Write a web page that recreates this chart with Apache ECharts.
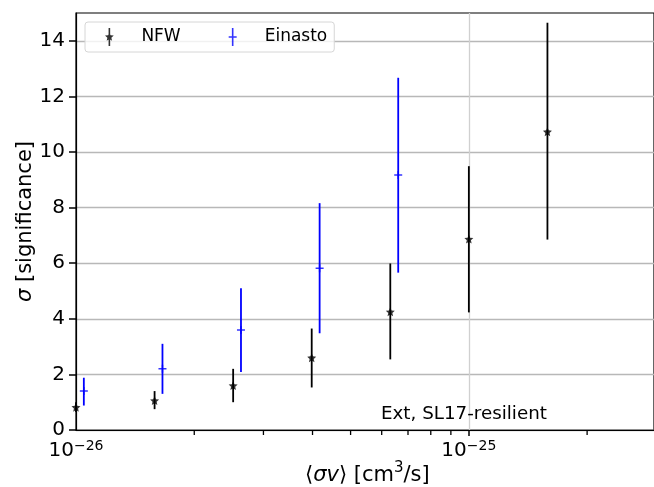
<!DOCTYPE html>
<html><head><meta charset="utf-8">
<script src="https://cdn.jsdelivr.net/npm/echarts@6/dist/echarts.min.js"></script>
<style>html,body{margin:0;padding:0;background:#fff}#c{width:654px;height:487px}</style>
</head><body><div id="c"></div>
<script>
// ---- data ----
const nfwX  = [1.0e-26, 1.585e-26, 2.512e-26, 3.981e-26, 6.31e-26, 1.0e-25, 1.585e-25];
const nfwY  = [0.82, 1.06, 1.60, 2.60, 4.25, 6.87, 10.73];
const nfwLo = [0.65, 0.75, 1.00, 1.53, 2.54, 4.23, 6.85];
const nfwHi = [1.00, 1.40, 2.20, 3.65, 5.99, 9.49, 14.65];
const einX  = [1.047e-26, 1.66e-26, 2.63e-26, 4.17e-26, 6.61e-26];
const einY  = [1.40, 2.20, 3.60, 5.82, 9.17];
const einLo = [0.88, 1.30, 2.09, 3.48, 5.66];
const einHi = [1.88, 3.10, 5.10, 8.16, 12.67];
const yTicks = [0, 2, 4, 6, 8, 10, 12, 14];
const xMajorTicks = [1e-26, 1e-25];
const xMajorLabels = ['{b|10}{s|−26}', '{b|10}{s|−25}'];
const xMinorTicks = [2e-26, 3e-26, 4e-26, 5e-26, 6e-26, 7e-26, 8e-26, 9e-26, 2e-25];
const xMin = 1e-26, xMax = 2.96e-25, yMin = 0, yMax = 15;
const seriesNames = ['NFW', 'Einasto'];
const annotation = 'Ext, SL17-resilient';
const xAxisTitle = '{n|⟨}{i|σv}{n|⟩ [cm}{sup|3}{n|/s]}';
const yAxisTitle = '{i|σ} [significance]';

// ---- style helpers ----
const FONT = 'DejaVu Sans';
function starPath(cx, cy, R, r) {
  let d = '';
  for (let i = 0; i < 10; i++) {
    const a = -Math.PI / 2 + i * Math.PI / 5;
    const rad = (i % 2 === 0) ? R : r;
    const x = (cx + rad * Math.cos(a)).toFixed(3), y = (cy + rad * Math.sin(a)).toFixed(3);
    d += (i === 0 ? 'M' : 'L') + x + ',' + y + ' ';
  }
  return d + 'Z';
}
const starSymbol = 'path://' + starPath(5, 5, 5, 2.3);
const plusSymbol = 'path://M0,3.25 L8,3.25 L8,4.75 L0,4.75 Z M3.25,0 L4.75,0 L4.75,8 L3.25,8 Z';
const nfwIcon = 'path://M3.2,0 L4.8,0 L4.8,18 L3.2,18 Z ' + starPath(4, 9, 4.6, 2.1);
const einIcon = 'path://M3.2,0 L4.8,0 L4.8,18 L3.2,18 Z M0,8.25 L8,8.25 L8,9.75 L0,9.75 Z';

function errSeries(name, xs, lo, hi, color) {
  return {
    name: name, type: 'custom', z: 2, silent: true,
    itemStyle: { color: color },
    data: xs.map((x, i) => [x, lo[i], hi[i]]),
    encode: { x: 0, y: [1, 2] },
    renderItem: function (params, api) {
      const p1 = api.coord([api.value(0), api.value(1)]);
      const p2 = api.coord([api.value(0), api.value(2)]);
      return { type: 'line', shape: { x1: p1[0], y1: p1[1], x2: p2[0], y2: p2[1] },
               style: { stroke: color, lineWidth: 1.8 } };
    }
  };
}

const chart = echarts.init(document.getElementById('c'), null, { renderer: 'canvas' });
chart.setOption({
  animation: false,
  backgroundColor: '#fff',
  textStyle: { fontFamily: FONT, color: '#000' },
  grid: { left: 76, top: 13, right: 0, bottom: 57,
          show: true, borderColor: '#000', borderWidth: 1.2, backgroundColor: 'transparent' },
  title: [
    { text: annotation, left: 381, top: 405, padding: 0,
      textStyle: { fontFamily: FONT, fontSize: 18.3, fontWeight: 'normal', color: '#000' } },
    { text: xAxisTitle, left: 305, top: 461, padding: 0,
      textStyle: { fontFamily: FONT, fontSize: 21, fontWeight: 'normal', color: '#000', lineHeight: 25,
        rich: { n: { fontFamily: FONT, fontSize: 21, lineHeight: 25, verticalAlign: 'bottom', color: '#000' },
                i: { fontFamily: FONT, fontSize: 21, lineHeight: 25, fontStyle: 'italic', verticalAlign: 'bottom', color: '#000' },
                sup: { fontFamily: FONT, fontSize: 15, lineHeight: 15, verticalAlign: 'top', color: '#000' } } } }
  ],
  legend: {
    left: 85, top: 22, orient: 'horizontal',
    padding: [6, 7, 6, 20], itemGap: 48, itemWidth: 24, itemHeight: 18,
    symbolKeepAspect: true, selectedMode: false,
    backgroundColor: 'rgba(255,255,255,0.8)', borderColor: '#d6d6d6', borderWidth: 1, borderRadius: 3,
    textStyle: { fontFamily: FONT, fontSize: 17, color: '#000', padding: [0, 0, 0, 15] },
    data: [{ name: seriesNames[0], icon: nfwIcon }, { name: seriesNames[1], icon: einIcon }]
  },
  xAxis: {
    type: 'log', logBase: 10, min: xMin, max: xMax,
    axisLine: { show: true, lineStyle: { color: '#000', width: 1.2 } },
    axisTick: { show: true, inside: false, length: 6, lineStyle: { color: '#000', width: 1.5 } },
    axisLabel: { show: false },
    splitLine: { show: true, lineStyle: { color: '#d0d0d0', width: 1.3 } },
    minorTick: { show: false }
  },
  yAxis: {
    type: 'value', min: yMin, max: yMax,
    name: yAxisTitle, nameLocation: 'middle', nameGap: 40, nameRotate: 90,
    nameMoveOverlap: false,
    nameTextStyle: { fontFamily: FONT, fontSize: 21, color: '#000',
      rich: { i: { fontFamily: FONT, fontSize: 21, fontStyle: 'italic' } } },
    axisLine: { show: true, lineStyle: { color: '#000', width: 1.2 } },
    axisTick: { show: true, inside: false, length: 7, lineStyle: { color: '#000', width: 1.5 }, customValues: yTicks },
    axisLabel: { customValues: yTicks, margin: 11, fontFamily: FONT, fontSize: 20, color: '#000' },
    splitLine: { show: true, lineStyle: { color: '#b8b8b8', width: 1.3 } }
  },
  series: [
    { name: seriesNames[0], type: 'scatter', z: 4, symbol: starSymbol, symbolSize: 9,
      itemStyle: { color: '#000' }, data: nfwX.map((x, i) => [x, nfwY[i]]) },
    { name: seriesNames[1], type: 'scatter', z: 4, symbol: plusSymbol, symbolSize: 8,
      itemStyle: { color: '#0000ff' }, data: einX.map((x, i) => [x, einY[i]]) },
    errSeries(seriesNames[0], nfwX, nfwLo, nfwHi, '#000'),
    errSeries(seriesNames[1], einX, einLo, einHi, '#0000ff'),
    { name: 'minorTicks', type: 'custom', silent: true, z: 5, clip: false,
      data: xMinorTicks.map(v => [v, yMin]),
      renderItem: function (params, api) {
        const p = api.coord([api.value(0), yMin]);
        return { type: 'line', shape: { x1: p[0], y1: p[1], x2: p[0], y2: p[1] + 5 },
                 style: { stroke: '#000', lineWidth: 1.3 } };
      } },
    { name: 'xTickLabels', type: 'custom', silent: true, z: 5, clip: false,
      data: xMajorTicks.map(v => [v, yMin]),
      renderItem: function (params, api) {
        const p = api.coord([api.value(0), yMin]);
        return { type: 'text', x: p[0], y: p[1] + 9,
                 style: { text: xMajorLabels[params.dataIndex], align: 'center', verticalAlign: 'top',
                          fill: '#000', fontFamily: FONT, fontSize: 20,
                          rich: { b: { fontFamily: FONT, fontSize: 20, fill: '#000', verticalAlign: 'bottom' },
                                  s: { fontFamily: FONT, fontSize: 14, fill: '#000', verticalAlign: 'bottom', padding: [0, 0, 8, 0] } } } };
      } }
  ]
});
</script>
</body></html>
